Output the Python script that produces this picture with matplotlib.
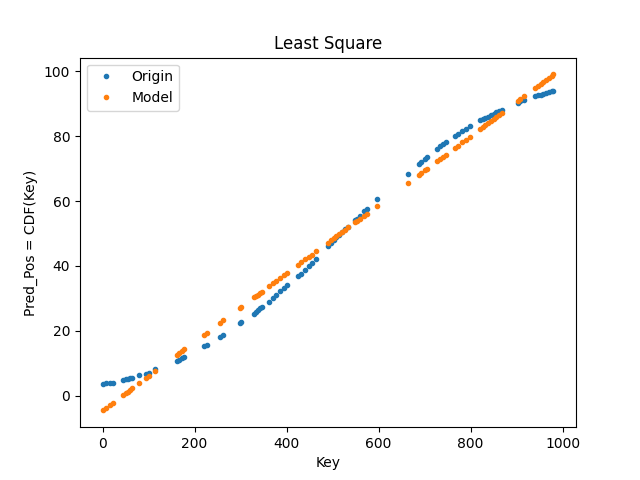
import matplotlib
matplotlib.use('Agg')
import matplotlib.pyplot as plt

# keys, cluster by cluster
keys = [0, 8, 16, 22,
        45, 50, 55, 60, 65,
        80, 95, 100, 115,
        162, 167, 172, 178,
        220, 226, 255, 262, 298, 301,
        330, 334, 338, 342, 346,
        362, 370, 378, 386, 394, 400,
        424, 432, 440, 448, 455, 465,
        490, 496, 502, 508, 514, 520, 527, 534,
        548, 553, 560, 568, 574, 597,
        664, 687, 692, 700, 706,
        727, 733, 740, 746,
        765, 772, 782, 790, 798,
        820, 826, 832, 838, 844, 850, 856, 862, 868,
        902, 908, 916,
        940, 946, 952, 958, 964, 970, 976, 980]

# real position (Origin)
origin = [3.6, 3.8, 3.9, 4.0,
          5.0, 5.1, 5.3, 5.4, 5.5,
          6.3, 6.8, 7.1, 8.1,
          10.6, 11.1, 11.6, 12.1,
          15.2, 15.5, 18.0, 18.6, 22.4, 22.7,
          25.3, 25.8, 26.3, 26.9, 27.4,
          29.0, 30.0, 31.2, 32.2, 33.3, 34.0,
          36.8, 37.6, 38.8, 40.0, 41.0, 42.0,
          46.0, 47.0, 48.0, 48.8, 49.6, 50.5, 51.3, 52.0,
          54.0, 54.5, 55.4, 56.8, 57.4, 60.5,
          68.4, 71.5, 72.0, 73.0, 73.6,
          76.0, 76.8, 77.5, 78.1,
          80.0, 80.6, 81.6, 82.3, 83.0,
          84.8, 85.2, 85.6, 86.0, 86.4, 86.9, 87.3, 87.7, 88.0,
          90.3, 90.7, 91.1,
          92.4, 92.6, 92.8, 93.0, 93.3, 93.5, 93.8, 94.0]

# least square prediction (Model)
model = [-4.5, -3.7, -2.8, -2.2,
         0.25, 0.8, 1.3, 1.8, 2.4,
         3.95, 5.5, 6.1, 7.6,
         12.6, 13.1, 13.7, 14.3,
         18.7, 19.4, 22.4, 23.2, 27.0, 27.3,
         30.3, 30.8, 31.2, 31.6, 32.0,
         33.7, 34.6, 35.4, 36.3, 37.1, 37.7,
         40.3, 41.1, 42.0, 42.8, 43.5, 44.6,
         47.2, 47.9, 48.5, 49.1, 49.8, 50.4, 51.2, 51.9,
         53.4, 53.9, 54.6, 55.5, 56.1, 58.5,
         65.7, 68.0, 68.6, 69.4, 70.0,
         72.3, 72.9, 73.6, 74.3,
         76.3, 77.0, 78.1, 78.9, 79.8,
         82.1, 82.7, 83.4, 84.0, 84.6, 85.3, 85.9, 86.5, 87.2,
         90.8, 91.4, 92.2,
         94.8, 95.4, 96.0, 96.7, 97.3, 97.9, 98.6, 99.0]

plt.figure(figsize=(6.4, 4.8), dpi=100)
plt.plot(keys, origin, '.', label='Origin')
plt.plot(keys, model, '.', label='Model')
plt.title('Least Square')
plt.xlabel('Key')
plt.ylabel('Pred_Pos = CDF(Key)')
plt.legend(loc='upper left')
plt.savefig('out.png')
